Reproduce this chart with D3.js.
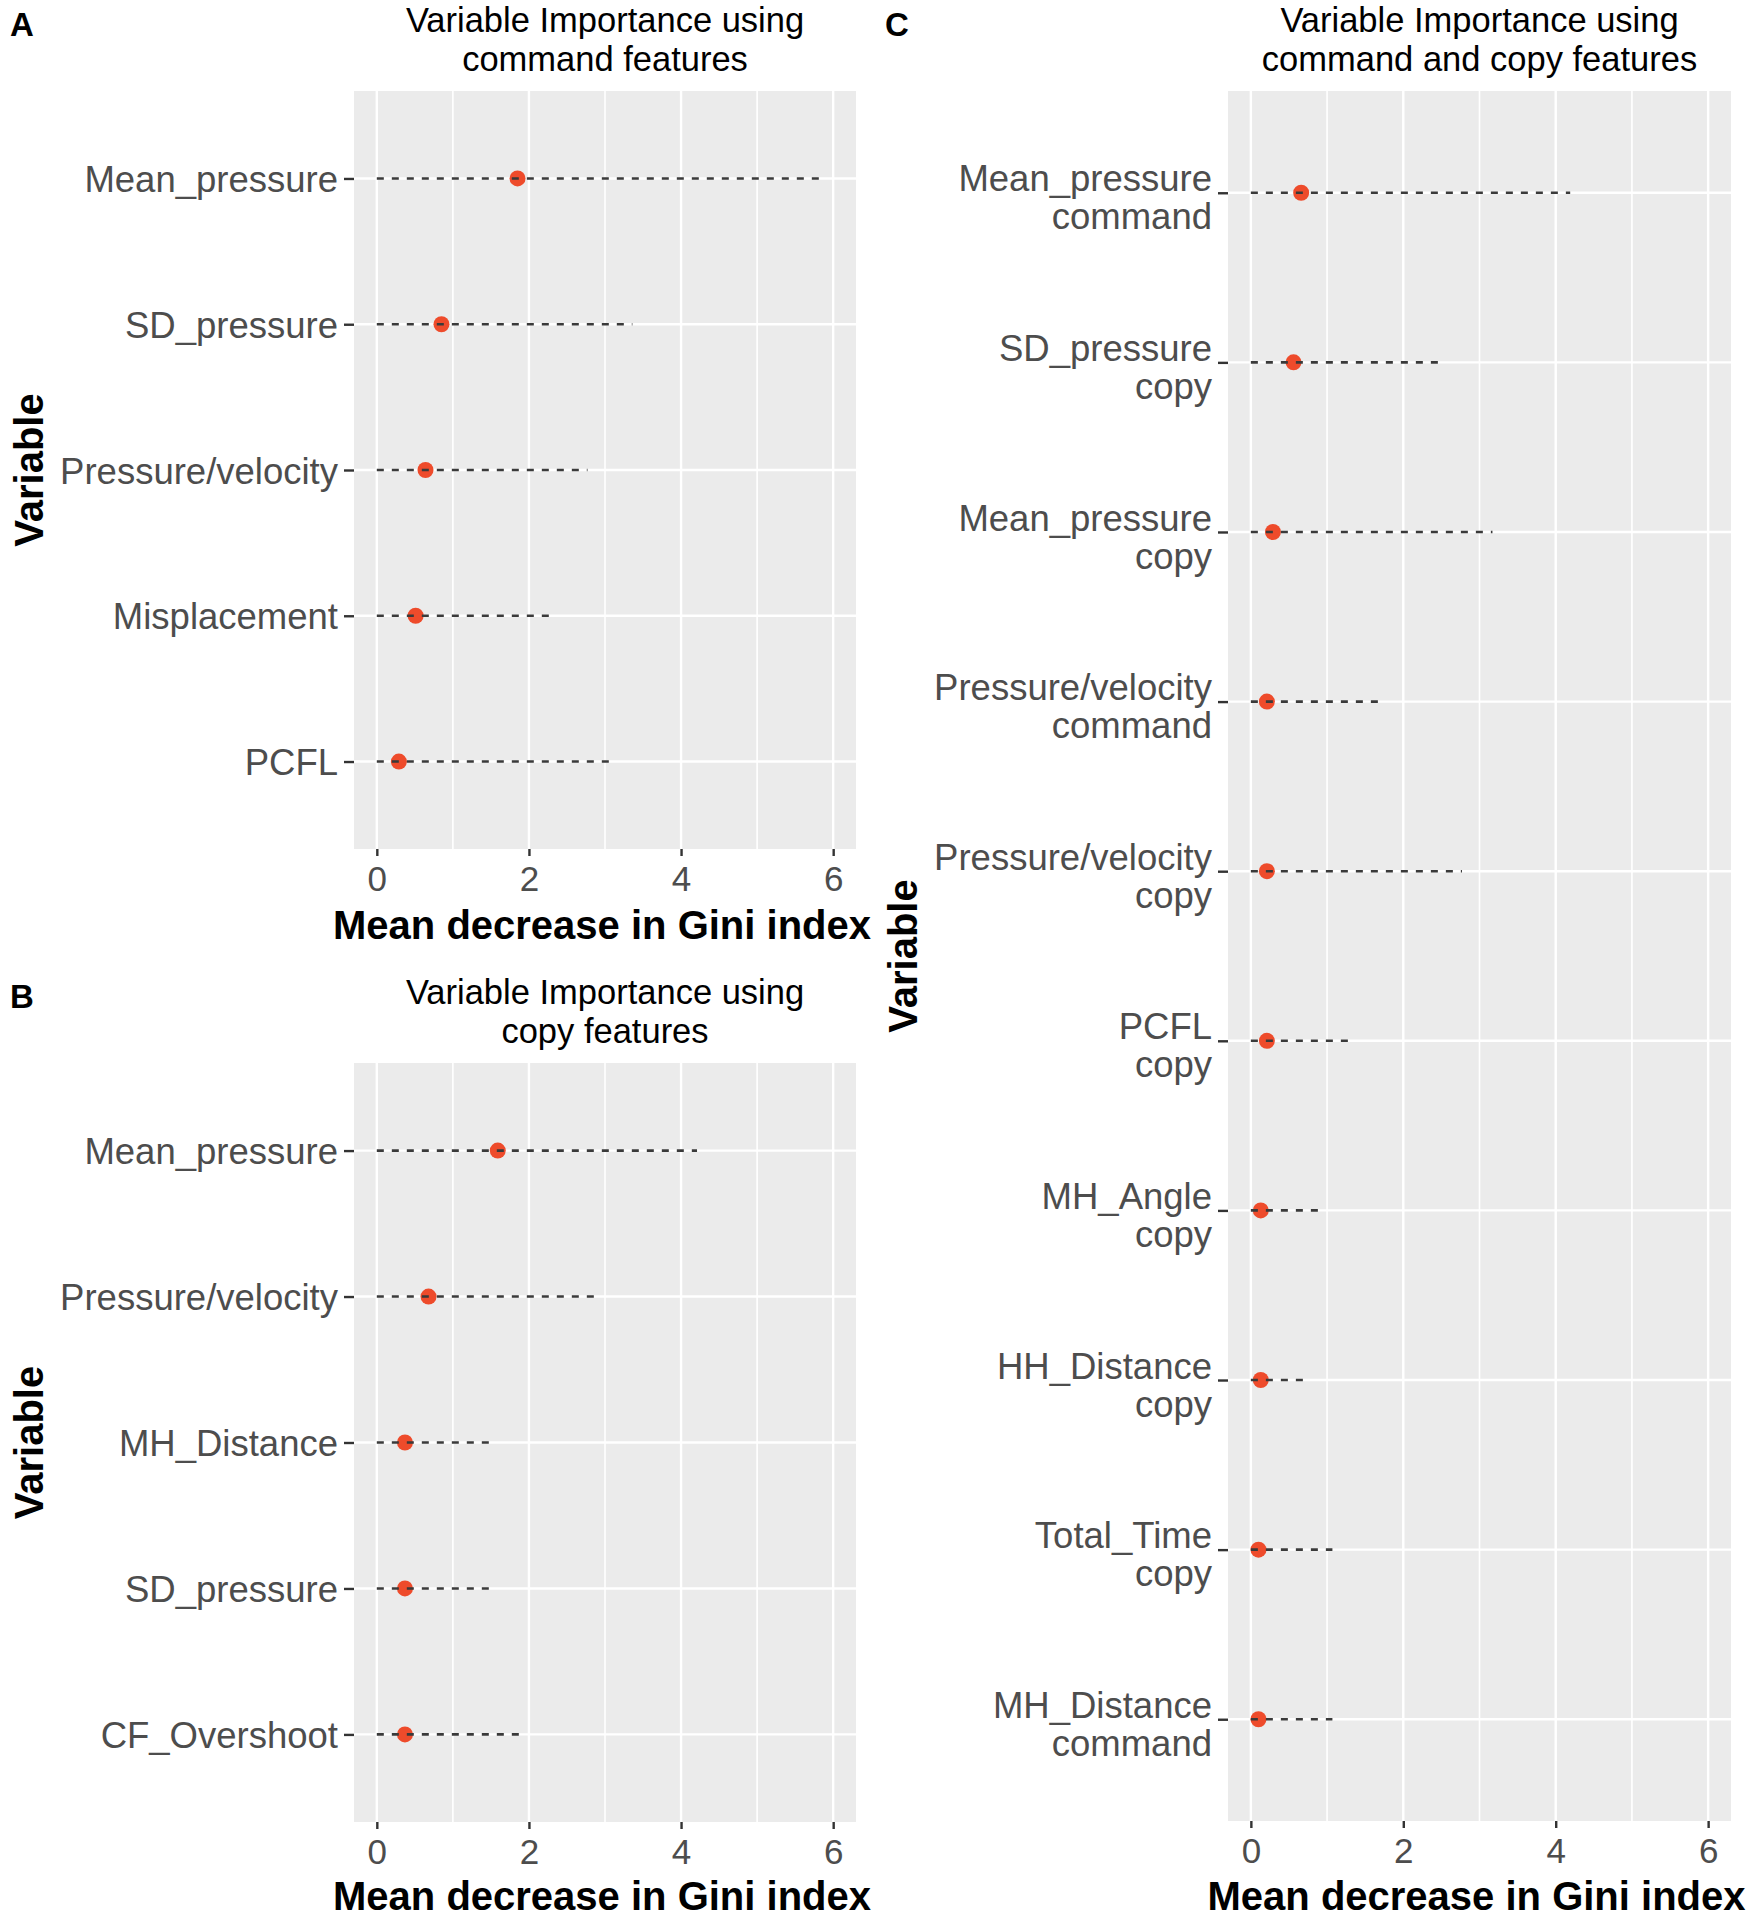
<!DOCTYPE html>
<html>
<head>
<meta charset="utf-8">
<script src="https://cdn.jsdelivr.net/npm/d3@7/dist/d3.min.js"></script>
<style>
  html, body { margin: 0; padding: 0; background: #fff; }
  svg { display: block; }
</style>
</head>
<body>
<svg id="chart" width="1753" height="1919"></svg>
<script>
// ---------------- DATA ----------------
const catsA = ["Mean_pressure", "SD_pressure", "Pressure/velocity", "Misplacement", "PCFL"];
const valsA = [1.85, 0.85, 0.64, 0.51, 0.29];
const endsA = [5.84, 3.36, 2.77, 2.33, 3.07];

const catsB = ["Mean_pressure", "Pressure/velocity", "MH_Distance", "SD_pressure", "CF_Overshoot"];
const valsB = [1.59, 0.68, 0.37, 0.37, 0.37];
const endsB = [4.21, 2.94, 1.56, 1.48, 1.88];

const catsC = ["Mean_pressure\ncommand", "SD_pressure\ncopy", "Mean_pressure\ncopy",
               "Pressure/velocity\ncommand", "Pressure/velocity\ncopy", "PCFL\ncopy",
               "MH_Angle\ncopy", "HH_Distance\ncopy", "Total_Time\ncopy", "MH_Distance\ncommand"];
const valsC = [0.66, 0.56, 0.29, 0.21, 0.21, 0.21, 0.13, 0.13, 0.10, 0.10];
const endsC = [4.19, 2.51, 3.17, 1.76, 2.77, 1.31, 0.94, 0.72, 1.07, 1.07];

const xTicks = [0, 2, 4, 6];
const xMinor = [1, 3, 5];
const xDomain = [-0.3, 6.3];

const titlesA = ["Variable Importance using", "command features"];
const titlesB = ["Variable Importance using", "copy features"];
const titlesC = ["Variable Importance using", "command and copy features"];
const xTitle = "Mean decrease in Gini index";
const yTitle = "Variable";

// ---------------- LAYOUT ----------------
const FONT = "'Liberation Sans', Arial, Helvetica, sans-serif";
const panels = [
  { tag: "A", cats: catsA, vals: valsA, ends: endsA, titles: titlesA,
    left: 354, right: 856, top: 91, bottom: 849, tagX: 10, tagY: 36, yTitleX: 43 },
  { tag: "B", cats: catsB, vals: valsB, ends: endsB, titles: titlesB,
    left: 354, right: 856, top: 1063, bottom: 1822, tagX: 10, tagY: 1008, yTitleX: 43 },
  { tag: "C", cats: catsC, vals: valsC, ends: endsC, titles: titlesC,
    left: 1228, right: 1731, top: 91, bottom: 1821, tagX: 885, tagY: 36, yTitleX: 917 }
];

const svg = d3.select("#chart");

const labelFs = 36.5, lineH = 38;

panels.forEach(p => {
  const g = svg.append("g");
  const x = d3.scaleLinear().domain(xDomain).range([p.left, p.right]);
  const y = d3.scalePoint().domain(p.cats).range([p.top, p.bottom]).padding(0.6);

  // panel background
  g.append("rect")
    .attr("x", p.left).attr("y", p.top)
    .attr("width", p.right - p.left).attr("height", p.bottom - p.top)
    .attr("fill", "#EBEBEB");

  // minor vertical grid
  g.selectAll(".minor").data(xMinor).enter().append("line")
    .attr("x1", d => x(d)).attr("x2", d => x(d))
    .attr("y1", p.top).attr("y2", p.bottom)
    .attr("stroke", "#fff").attr("stroke-width", 1.6);
  // major vertical grid
  g.selectAll(".major").data(xTicks).enter().append("line")
    .attr("x1", d => x(d)).attr("x2", d => x(d))
    .attr("y1", p.top).attr("y2", p.bottom)
    .attr("stroke", "#fff").attr("stroke-width", 2.4);
  // horizontal grid
  g.selectAll(".hgrid").data(p.cats).enter().append("line")
    .attr("x1", p.left).attr("x2", p.right)
    .attr("y1", d => y(d)).attr("y2", d => y(d))
    .attr("stroke", "#fff").attr("stroke-width", 2.4);

  // points
  g.selectAll(".pt").data(p.cats).enter().append("circle")
    .attr("cx", (d, i) => x(p.vals[i])).attr("cy", d => y(d))
    .attr("r", 8).attr("fill", "#EE4B2B");

  // dashed segments from 0 to end
  g.selectAll(".seg").data(p.cats).enter().append("line")
    .attr("x1", x(0)).attr("x2", (d, i) => x(p.ends[i]))
    .attr("y1", d => y(d)).attr("y2", d => y(d))
    .attr("stroke", "#3a3a3a").attr("stroke-width", 2.6)
    .attr("stroke-dasharray", "7,8");

  // x axis
  const xa = g.append("g").attr("transform", `translate(0,${p.bottom})`)
    .call(d3.axisBottom(x).tickValues(xTicks).tickSize(7).tickPadding(8).tickFormat(d3.format("d")));
  xa.select(".domain").remove();
  xa.selectAll(".tick line").attr("stroke", "#333").attr("stroke-width", 2.4);
  xa.selectAll(".tick text").attr("font-family", FONT).attr("font-size", 35)
    .attr("fill", "#4D4D4D").attr("dy", null).attr("y", 42);

  // y axis
  const ya = g.append("g").attr("transform", `translate(${p.left},0)`)
    .call(d3.axisLeft(y).tickSize(10).tickPadding(4));
  ya.select(".domain").remove();
  ya.selectAll(".tick line").attr("stroke", "#333").attr("stroke-width", 2.4);
  ya.selectAll(".tick text").each(function(d) {
    const t = d3.select(this);
    const lines = d.split("\n");
    t.text(null).attr("dy", null).attr("font-family", FONT).attr("font-size", labelFs)
      .attr("fill", "#4D4D4D").attr("text-anchor", "end");
    const n = lines.length;
    const b0 = -((n - 1) * lineH) / 2 + 0.36 * labelFs + (n > 1 ? 4 : 0);
    lines.forEach((ln, k) => {
      t.append("tspan").attr("x", -16).attr("y", b0 + k * lineH).text(ln);
    });
  });

  // title
  const cx = (p.left + p.right) / 2;
  p.titles.forEach((tt, k) => {
    g.append("text").attr("x", cx).attr("y", p.top - 59 + k * 39)
      .attr("text-anchor", "middle").attr("font-family", FONT).attr("font-size", 34.5)
      .attr("fill", "#000").text(tt);
  });

  // x title
  g.append("text").attr("x", cx - 3).attr("y", Math.min(p.bottom + 90, 1910))
    .attr("text-anchor", "middle").attr("font-family", FONT).attr("font-size", 40)
    .attr("font-weight", "bold").attr("fill", "#000").text(xTitle);

  // y title
  const cy = (p.top + p.bottom) / 2;
  g.append("text").attr("transform", `translate(${p.yTitleX},${cy}) rotate(-90)`)
    .attr("text-anchor", "middle").attr("font-family", FONT).attr("font-size", 40)
    .attr("font-weight", "bold").attr("fill", "#000").text(yTitle);

  // tag
  g.append("text").attr("x", p.tagX).attr("y", p.tagY)
    .attr("font-family", FONT).attr("font-size", 33).attr("font-weight", "bold")
    .attr("fill", "#000").text(p.tag);
});
</script>
</body>
</html>
